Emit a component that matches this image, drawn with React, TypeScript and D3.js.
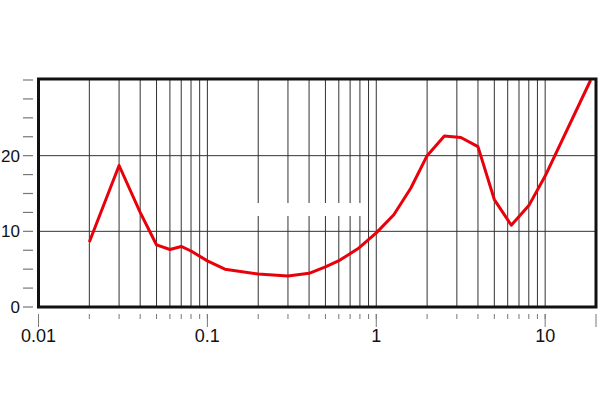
import React from "react";
import * as d3 from "d3";

const xValues = [0.02, 0.03, 0.04, 0.05, 0.06, 0.07, 0.08, 0.1, 0.127, 0.2, 0.3, 0.4, 0.5, 0.61, 0.79, 1.0, 1.27, 1.6, 2.0, 2.53, 3.17, 4.0, 5.0, 6.3, 8.0, 10.0, 18.6];
const yValues = [8.6, 18.7, 12.5, 8.2, 7.6, 8.0, 7.4, 6.1, 5.0, 4.35, 4.1, 4.45, 5.3, 6.2, 7.8, 9.8, 12.2, 15.7, 20.0, 22.6, 22.4, 21.2, 14.2, 10.8, 13.4, 17.3, 30.0];
const xTickLabels = ["0.01", "0.1", "1", "10"];
const xTickValues = [0.01, 0.1, 1, 10];
const yTickLabels = ["0", "10", "20"];
const yTickValues = [0, 10, 20];

export default function App() {
  const W = 600, H = 420;
  const left = 38.5, right = 596, top = 80, bottom = 307;
  const x = d3.scaleLog().domain([0.01, 20]).range([left, right]);
  const y = d3.scaleLinear().domain([0, 30]).range([bottom, top]);

  const gridX: number[] = [];
  for (const dec of [0.01, 0.1, 1, 10]) {
    for (let m = 1; m <= 9; m++) {
      const v = dec * m;
      if (v > 0.01 && v < 20) gridX.push(v);
    }
  }
  const minorY = d3.range(0, 30.01, 2.5);
  const line = d3.line<number>().x((_, i) => x(xValues[i])).y((d) => y(d));
  const font = "'Liberation Sans', Arial, sans-serif";

  return (
    <svg width={W} height={H} style={{ position: "absolute", left: 0, top: 0, background: "#fff" }}>
      {gridX.map((v, i) => (
        <line key={"gx" + i} x1={x(v)} x2={x(v)} y1={top} y2={bottom} stroke="#333" strokeWidth={1} />
      ))}
      {[10, 20].map((v) => (
        <line key={"gy" + v} x1={left} x2={right} y1={y(v)} y2={y(v)} stroke="#333" strokeWidth={1} />
      ))}
      <rect x={257} y={203} width={105} height={13} fill="#fff" />
      {minorY.map((v, i) => (
        <line key={"ty" + i} x1={23} x2={33} y1={y(v)} y2={y(v)} stroke="#777" strokeWidth={1.2} />
      ))}
      {gridX.map((v, i) => (
        <line key={"tx" + i} x1={x(v)} x2={x(v)} y1={314} y2={319} stroke="#777" strokeWidth={1} />
      ))}
      {[...xTickValues, 20].map((v, i) => (
        <line key={"txm" + i} x1={x(v)} x2={x(v)} y1={314} y2={327} stroke="#777" strokeWidth={1} />
      ))}
      <path d={line(yValues) || ""} fill="none" stroke="#e8000b" strokeWidth={3} strokeLinejoin="round" />
      <rect x={left} y={top - 1} width={right - left} height={bottom - top + 1} fill="none" stroke="#111" strokeWidth={3} />
      {xTickValues.map((v, i) => (
        <text key={"xl" + i} x={x(v)} y={342} textAnchor="middle" fontFamily={font} fontSize={18} fill="#111">
          {xTickLabels[i]}
        </text>
      ))}
      {yTickValues.map((v, i) => (
        <text key={"yl" + i} x={20} y={y(v) + 6} textAnchor="end" fontFamily={font} fontSize={17} fill="#111">
          {yTickLabels[i]}
        </text>
      ))}
    </svg>
  );
}
